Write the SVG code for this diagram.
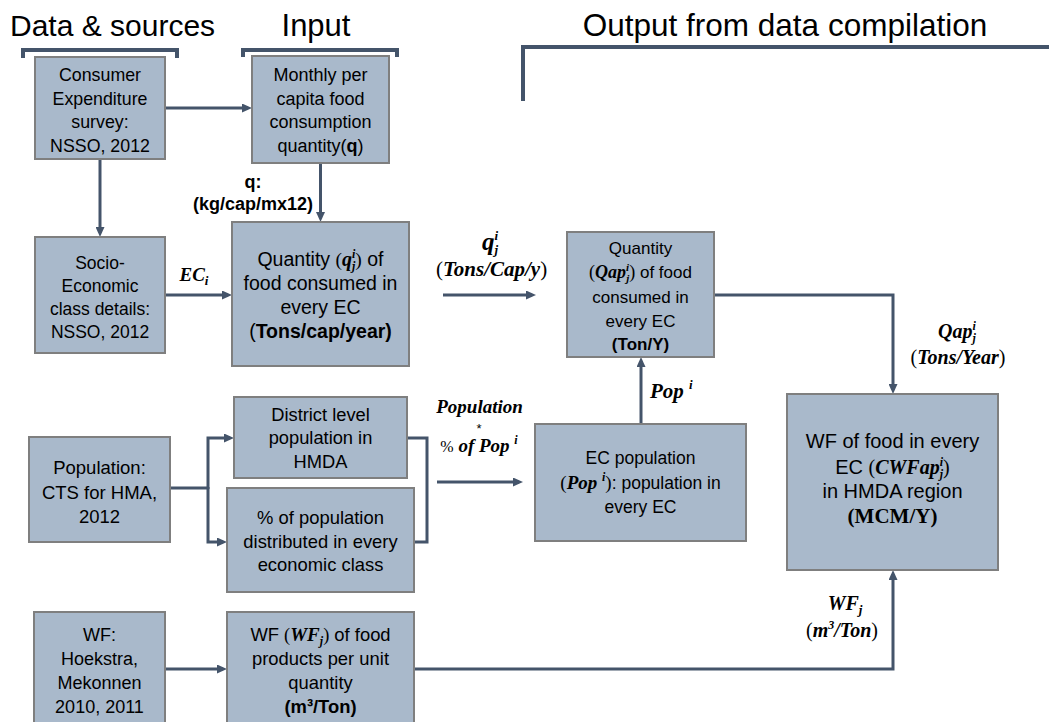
<svg xmlns="http://www.w3.org/2000/svg" width="1049" height="722" viewBox="0 0 1049 722">
<style>
.box{fill:#A9B9CB;stroke:#7F7F7F;stroke-width:2}
.t{font-family:"Liberation Sans",Arial,sans-serif;fill:#000;text-anchor:middle}
.h{font-family:"Liberation Sans",Arial,sans-serif;fill:#000}
.m{font-family:"Liberation Serif","Times New Roman",serif;font-weight:bold;font-style:italic}
.r{font-family:"Liberation Serif","Times New Roman",serif;font-weight:normal;font-style:normal}
.b{font-weight:bold}
.con{fill:none;stroke:#44546A;stroke-width:3}
.br{fill:none;stroke:#44546A;stroke-width:4}
</style>
<defs>
<marker id="ah" viewBox="0 0 10 9" refX="6" refY="4.5" markerWidth="10" markerHeight="9" markerUnits="userSpaceOnUse" orient="auto">
<path d="M0,0 L10,4.5 L0,9 z" fill="#44546A"/>
</marker>
</defs>
<g id="headers">
<text class="h" x="10" y="36" font-size="30">Data &amp; sources</text>
<text class="t" x="316" y="36" font-size="31">Input</text>
<text class="t" x="785" y="36" font-size="31.5">Output from data compilation</text>
<path class="br" d="M23,58 V50 H177 V58"/>
<path class="br" d="M243,57 V50 H397 V57"/>
<path class="br" d="M523,101 V47 H1052"/>
</g>
<g id="connectors">
<path class="con" d="M165,108 H248" marker-end="url(#ah)"/>
<path class="con" d="M100,160 V233" marker-end="url(#ah)"/>
<path class="con" d="M320.5,164 V218" marker-end="url(#ah)"/>
<path class="con" d="M165,295 H228" marker-end="url(#ah)"/>
<path class="con" d="M443,295 H532" marker-end="url(#ah)"/>
<path class="con" d="M714,295 H893 V390" marker-end="url(#ah)"/>
<path class="con" d="M641,424 V361" marker-end="url(#ah)"/>
<path class="con" d="M170,488 H208"/>
<path class="con" d="M208,489 V438 H230" marker-end="url(#ah)"/>
<path class="con" d="M208,487 V542 H223" marker-end="url(#ah)"/>
<path class="con" d="M407,438 H427 V542 H414"/>
<path class="con" d="M437,482 H519" marker-end="url(#ah)"/>
<path class="con" d="M165,669 H223" marker-end="url(#ah)"/>
<path class="con" d="M414,669 H893 V574" marker-end="url(#ah)"/>
</g>
<g id="labels">
<text class="t b" x="253" y="188" font-size="18">q:</text>
<text class="t b" x="253" y="210" font-size="18">(kg/cap/mx12)</text>
<text class="t m" x="194" y="281" font-size="19">EC<tspan font-size="13" dy="4">i</tspan></text>
<text class="t m" x="490" y="250" font-size="25">q<tspan font-size="13" dy="-10">i</tspan><tspan font-size="13" dx="-3.5" dy="14">j</tspan></text>
<text class="t" x="491.5" y="276" font-size="21"><tspan class="r">(</tspan><tspan class="m">Tons/Cap/y</tspan><tspan class="r">)</tspan></text>
<text class="t m" x="479.5" y="413" font-size="19">Population</text>
<text class="t h" x="479" y="433" font-size="13" text-anchor="middle">*</text>
<text class="t" x="479" y="452" font-size="19"><tspan class="r" font-size="16">%</tspan><tspan class="m"> of Pop </tspan><tspan class="m" font-size="12" dy="-8">i</tspan></text>
<text class="m" x="650" y="398" font-size="21">Pop <tspan font-size="13" dy="-9">i</tspan></text>
<text class="t m" x="957" y="338" font-size="20">Qap<tspan font-size="12" dy="-8">i</tspan><tspan font-size="12" dx="-3.3" dy="12">j</tspan></text>
<text class="t" x="958" y="364" font-size="20"><tspan class="r">(</tspan><tspan class="m">Tons/Year</tspan><tspan class="r">)</tspan></text>
<text class="t m" x="845" y="610" font-size="20">WF<tspan font-size="13" dy="4">j</tspan></text>
<text class="t" x="842" y="637" font-size="20"><tspan class="r">(</tspan><tspan class="m">m</tspan><tspan class="m" font-size="12" dy="-8">3</tspan><tspan class="m" dy="8">/Ton</tspan><tspan class="r">)</tspan></text>
</g>
<g id="consumer">
<rect class="box" x="35" y="57" width="130" height="102"/>
<text class="t" font-size="17.8"><tspan x="100" y="81">Consumer</tspan><tspan x="100" y="104.5">Expenditure</tspan><tspan x="100" y="128">survey:</tspan><tspan x="100" y="151.5">NSSO, 2012</tspan></text>
</g>
<g id="monthly">
<rect class="box" x="252" y="56" width="137" height="107"/>
<text class="t" font-size="18"><tspan x="320.5" y="81">Monthly per</tspan><tspan x="320.5" y="104.5">capita food</tspan><tspan x="320.5" y="128">consumption</tspan><tspan x="320.5" y="151.5">quantity(<tspan class="b">q</tspan>)</tspan></text>
</g>
<g id="socio">
<rect class="box" x="35" y="237" width="130" height="116"/>
<text class="t" font-size="17.5"><tspan x="100" y="269">Socio-</tspan><tspan x="100" y="292">Economic</tspan><tspan x="100" y="315">class details:</tspan><tspan x="100" y="338">NSSO, 2012</tspan></text>
</g>
<g id="quantity">
<rect class="box" x="232" y="222" width="177" height="144"/>
<text class="t" font-size="19.5" x="320.5" y="266">Quantity <tspan class="r">(</tspan><tspan class="m" font-size="20">q</tspan><tspan class="m" font-size="12" dy="-8">i</tspan><tspan class="m" font-size="12" dx="-3.3" dy="12">j</tspan><tspan class="r" dy="-4">)</tspan> of</text>
<text class="t" font-size="19.5"><tspan x="320.5" y="290">food consumed in</tspan><tspan x="320.5" y="314">every EC</tspan><tspan x="320.5" y="338">(<tspan class="b">Tons/cap/year)</tspan></tspan></text>
</g>
<g id="qap">
<rect class="box" x="567" y="232" width="147" height="125"/>
<text class="t" font-size="17"><tspan x="640.5" y="254">Quantity</tspan></text>
<text class="t" font-size="17" x="640.5" y="278"><tspan class="r" font-size="18">(</tspan><tspan class="m" font-size="18">Qap</tspan><tspan class="m" font-size="11" dy="-7">i</tspan><tspan class="m" font-size="11" dx="-3" dy="11">j</tspan><tspan class="r" font-size="18" dy="-4">)</tspan> of food</text>
<text class="t" font-size="17"><tspan x="640.5" y="303">consumed in</tspan><tspan x="640.5" y="327">every EC</tspan><tspan class="b" x="640.5" y="350">(Ton/Y)</tspan></text>
</g>
<g id="wf_output">
<rect class="box" x="787" y="394" width="211" height="176"/>
<text class="t" font-size="20"><tspan x="892.5" y="448">WF of food in every</tspan></text>
<text class="t" font-size="20" x="892.5" y="474">EC <tspan class="r">(</tspan><tspan class="m">CWFap</tspan><tspan class="m" font-size="12" dy="-8">i</tspan><tspan class="m" font-size="12" dx="-3.3" dy="12">j</tspan><tspan class="r" dy="-4">)</tspan></text>
<text class="t" font-size="20"><tspan x="892.5" y="498">in HMDA region</tspan></text>
<text class="t r b" font-size="21" x="892.5" y="523" font-weight="bold">(MCM/Y)</text>
</g>
<g id="population">
<rect class="box" x="29" y="437" width="141" height="105"/>
<text class="t" font-size="18.5"><tspan x="99.5" y="474">Population:</tspan><tspan x="99.5" y="499">CTS for HMA,</tspan><tspan x="99.5" y="523">2012</tspan></text>
</g>
<g id="district">
<rect class="box" x="234" y="397" width="173" height="81"/>
<text class="t" font-size="18.3"><tspan x="320.5" y="421">District level</tspan><tspan x="320.5" y="444">population in</tspan><tspan x="320.5" y="468">HMDA</tspan></text>
</g>
<g id="percent">
<rect class="box" x="227" y="488" width="187" height="104"/>
<text class="t" font-size="18.4"><tspan x="320.5" y="524">% of population</tspan><tspan x="320.5" y="548">distributed in every</tspan><tspan x="320.5" y="571">economic class</tspan></text>
</g>
<g id="ec_population">
<rect class="box" x="535" y="424" width="211" height="117"/>
<text class="t" font-size="17.5"><tspan x="640.5" y="464">EC population</tspan></text>
<text class="t" font-size="17.5" x="640.5" y="489"><tspan class="r" font-size="19">(</tspan><tspan class="m" font-size="19">Pop </tspan><tspan class="m" font-size="12" dy="-8">i</tspan><tspan class="r" font-size="19" dy="8">)</tspan>: population in</text>
<text class="t" font-size="17.5"><tspan x="640.5" y="513">every EC</tspan></text>
</g>
<g id="wf_source">
<rect class="box" x="34" y="612" width="131" height="114"/>
<text class="t" font-size="18"><tspan x="99.5" y="641">WF:</tspan><tspan x="99.5" y="665">Hoekstra,</tspan><tspan x="99.5" y="689">Mekonnen</tspan><tspan x="99.5" y="713">2010, 2011</tspan></text>
</g>
<g id="wf_product">
<rect class="box" x="227" y="612" width="187" height="114"/>
<text class="t" font-size="18.4" x="320.5" y="641">WF <tspan class="r">(</tspan><tspan class="m" font-size="19">WF</tspan><tspan class="m" font-size="12" dy="4">j</tspan><tspan class="r" dy="-4">)</tspan> of food</text>
<text class="t" font-size="18.4"><tspan x="320.5" y="665">products per unit</tspan><tspan x="320.5" y="689">quantity</tspan><tspan class="b" x="320.5" y="713">(m³/Ton)</tspan></text>
</g>
</svg>
